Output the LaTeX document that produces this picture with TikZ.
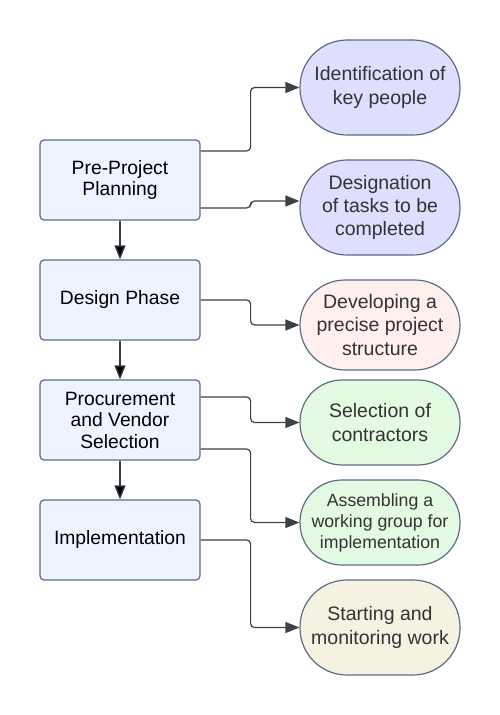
\documentclass[tikz,border=0pt]{standalone}
\usepackage{fontspec}
\setmainfont{Liberation Sans}
\usepackage{tikz}
\usetikzlibrary{arrows.meta,positioning}
\definecolor{boxfill}{HTML}{EDF4FF}
\definecolor{linegray}{HTML}{5E6C84}
\definecolor{arrowgray}{HTML}{3A414A}
\definecolor{textgray}{HTML}{333333}
\definecolor{lavender}{HTML}{DEDEFF}
\definecolor{rose}{HTML}{FFF0EE}
\definecolor{mint}{HTML}{E3FAE3}
\definecolor{cream}{HTML}{F5F2E1}

\begin{document}
\begin{tikzpicture}[x=1pt,y=-1pt,
phase/.style={draw=linegray,fill=boxfill,rounded corners=4pt,line width=1.2pt,
  minimum width=160pt,minimum height=80pt,align=center,font=\fontsize{19.3}{21.5}\selectfont},
task/.style={draw=linegray,rounded corners=42pt,line width=1.2pt,minimum width=160pt,
  align=center,text=textgray,font=\fontsize{19.5}{23.4}\selectfont},
conn/.style={-{Triangle[length=14pt,width=11pt]},draw=arrowgray,line width=1.2pt,rounded corners=4pt}]
\useasboundingbox (0,0) rectangle (500,715);
\node[phase] (P) at (120,180) {Pre-Project\\Planning};
\node[phase] (D) at (120,300) {Design Phase};
\node[phase] (V) at (120,420) {Procurement\\and Vendor\\Selection};
\node[phase] (I) at (120,540) {Implementation};
\node[task,fill=lavender,minimum height=95pt,rounded corners=47pt] (K) at (380,87.5) {Identification of\\key people};
\node[task,fill=lavender,minimum height=95pt,rounded corners=47pt] (T) at (380,207.5) {Designation\\of tasks to be\\completed};
\node[task,fill=rose,minimum height=90pt,rounded corners=45pt] (S) at (380,325) {Developing a\\precise project\\structure};
\node[task,fill=mint,minimum height=85pt] (C) at (380,422.5) {Selection of\\contractors};
\node[task,fill=mint,minimum height=85pt,font=\fontsize{17.7}{21}\selectfont] (W) at (380,522.5) {Assembling a\\working group for\\implementation};
\node[task,fill=cream,minimum height=95pt,rounded corners=47pt] (M) at (380,627.5) {Starting and\\monitoring work};
\path[conn]
(P) edge (D)
(D) edge (V)
(V) edge (I);
\draw[conn] ([yshift=29pt]P.east) -- ++(50,0) |- (K.west);
\draw[conn] ([yshift=-28pt]P.east) -- ++(50,0) |- ([yshift=6.5pt]T.west);
\draw[conn] (D.east) -- ++(50,0) |- (S.west);
\draw[conn] ([yshift=23pt]V.east) -- ++(50,0) |- (C.west);
\draw[conn] ([yshift=-29pt]V.east) -- ++(50,0) |- (W.west);
\draw[conn] (I.east) -- ++(50,0) |- (M.west);
\end{tikzpicture}
\end{document}
